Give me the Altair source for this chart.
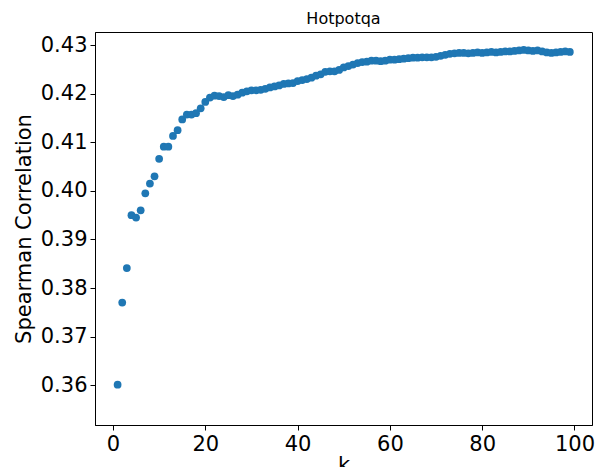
import altair as alt
import pandas as pd

k = list(range(1, 100))
corr = [0.3601, 0.3770, 0.3841, 0.3950, 0.3945, 0.3960, 0.3995, 0.4015, 0.4030, 0.4066,
        0.4091, 0.4091, 0.4113, 0.4125, 0.4147, 0.4157, 0.4157, 0.4160, 0.4170, 0.4183,
        0.4192, 0.4196, 0.4195, 0.4193, 0.4197, 0.4195, 0.4198, 0.4202, 0.4205, 0.4207,
        0.4207, 0.4208, 0.4210, 0.4213, 0.4215, 0.4217, 0.4220, 0.4221, 0.4222, 0.4226,
        0.4228, 0.4230, 0.4233, 0.4237, 0.4240, 0.4245, 0.4246, 0.4246, 0.4249, 0.4254,
        0.4257, 0.4260, 0.4263, 0.4265, 0.4266, 0.4268, 0.4268, 0.4267, 0.4268, 0.4270,
        0.4270, 0.4271, 0.4272, 0.4273, 0.4274, 0.4274, 0.4275, 0.4275, 0.4275, 0.4276,
        0.4278, 0.4280, 0.4282, 0.4283, 0.4284, 0.4284, 0.4283, 0.4284, 0.4285, 0.4284,
        0.4285, 0.4286, 0.4285, 0.4286, 0.4287, 0.4287, 0.4288, 0.4289, 0.4290, 0.4289,
        0.4288, 0.4289, 0.4287, 0.4285, 0.4284, 0.4285, 0.4286, 0.4287, 0.4286]

df = pd.DataFrame({"k": k, "corr": corr})

chart = alt.Chart(df).mark_circle(size=60, opacity=1, color="#1f77b4").encode(
    x=alt.X("k:Q", scale=alt.Scale(domain=[-3.9, 103.8], nice=False, zero=False),
            axis=alt.Axis(values=[0, 20, 40, 60, 80, 100], title="k", grid=False, titlePadding=0)),
    y=alt.Y("corr:Q", scale=alt.Scale(domain=[0.3518, 0.4327], nice=False, zero=False),
            axis=alt.Axis(values=[0.36, 0.37, 0.38, 0.39, 0.40, 0.41, 0.42, 0.43], format=".2f",
                          title="Spearman Correlation", grid=False, titlePadding=6)),
).properties(
    width=497, height=393, autosize="none",
    padding={"left": 87, "top": 24, "right": 4, "bottom": 42},
    title=alt.Title("Hotpotqa", fontSize=16, fontWeight="normal", font="DejaVu Sans", offset=5),
).configure_view(stroke="black", strokeWidth=1).configure_axis(
    labelFont="DejaVu Sans", titleFont="DejaVu Sans", labelFontSize=21, titleFontSize=21,
    titleFontWeight="normal", labelColor="black", titleColor="black",
    domainColor="black", tickColor="black", tickSize=5, labelPadding=3,
)

chart.save("out.html", embed_options={"renderer": "svg", "actions": False})
